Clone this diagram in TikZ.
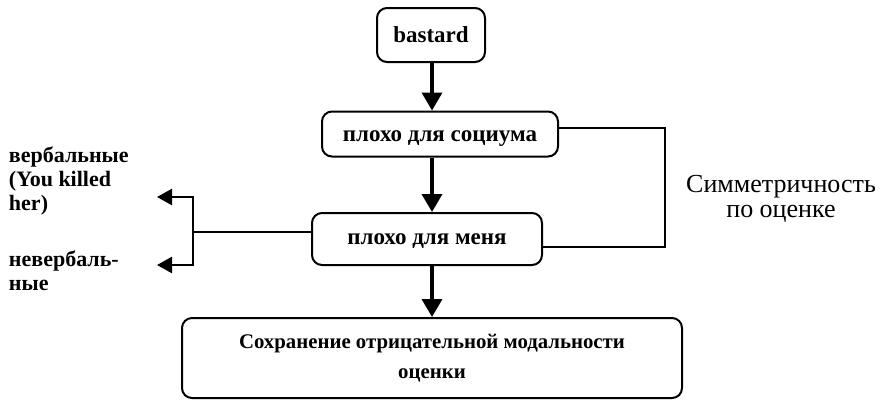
\documentclass[tikz,border=0pt]{standalone}
\usepackage{fontspec}
\setmainfont{Liberation Serif}
\usetikzlibrary{arrows.meta}

\begin{document}
\begin{tikzpicture}[x=0.5pt, y=-0.5pt, line width=1pt,
        arr/.style ={-{Triangle[length=9pt, width=10pt]}, line width=1.8pt},
        larr/.style ={-{Triangle[length=7.5pt, width=8pt]}, line width=1.3pt},
        box/.style ={draw, rounded corners=5pt, align=center, inner sep=2pt,
        font=\fontsize{11.5}{15}\selectfont\bfseries},
        lbl/.style ={align=left, inner sep=0pt, font=\fontsize{11}{12}\selectfont\bfseries}]

        \useasboundingbox (0,0) rectangle (881,403);

        %cajas de la cadena principal
        \node[box, minimum width=54pt, minimum height=27pt] (bastard) at (431, 35) {bastard};
        \node[box, minimum width=118pt, minimum height=22.5pt] (social) at (440, 134)
            {\raisebox{-3.75pt}[0pt][0pt]{плохо для социума}};
        \node[box, minimum width=115pt, minimum height=26pt] (me) at (427, 239)
            {\raisebox{-2.7pt}[0pt][0pt]{плохо для меня}};
        \node[box, minimum width=250pt, minimum height=40pt, font=\fontsize{10.4}{15}\selectfont\bfseries] (result) at (432, 358)
            {Сохранение отрицательной модальности\\оценки};

        %textos laterales
        \node[lbl, anchor=west] (verbal) at (8, 181) {вербальные\\(You killed\\her)};
        \node[lbl, anchor=west] (nonverbal) at (8, 271) {невербаль-\\ные};
        \node[lbl, align=center, font=\fontsize{13}{12.5}\selectfont] (symm) at (781, 199) {Симметричность\\по оценке};

        \coordinate (rc) at (665, 247);
        \coordinate (lf) at (193, 232);
        \coordinate (va) at (157, 197);
        \coordinate (vb) at (157, 265);

        \draw[arr] (bastard.south -| 432, 0) -- (social.north -| 432, 0);
        \draw[arr] (social.south -| 432, 0) -- (me.north -| 432, 0);
        \draw[arr] (me.south -| 432, 0) -- (result.north -| 432, 0);

        \draw[line width=0.8pt] ([yshift=3pt]social.east) -| (rc) -- (rc -| me.east);

        \draw[line width=0.8pt] (me.west |- lf) -- (lf);
        \draw[larr] (lf) |- (va);
        \draw[larr] (lf) |- (vb);
    \end{tikzpicture}
\end{document}
